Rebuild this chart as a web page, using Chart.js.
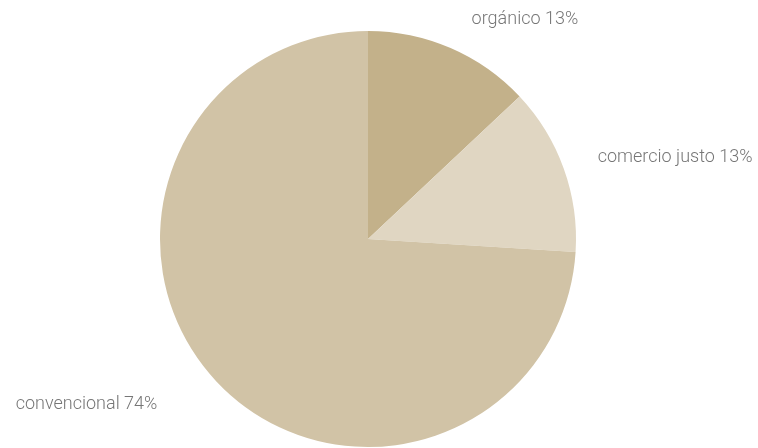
<!DOCTYPE html>
<html>
<head>
<meta charset="utf-8">
<style>
  html, body { margin: 0; padding: 0; background: #fff; }
  #wrap { width: 758px; height: 448px; }
</style>
<script src="https://cdn.jsdelivr.net/npm/chart.js@4"></script>
</head>
<body>
<div id="wrap"><canvas id="pieChart" width="758" height="448"></canvas></div>
<script>
const labels = ["orgánico", "comercio justo", "convencional"];
const values = [13, 13, 74];
const colors = ["#C3B18A", "#E0D6C2", "#D1C3A6"];

// label offset from the outer edge of each slice at its mid angle
const labelOffsets = [
    { dx: 21, dy: -29, align: "left" },
    { dx: 34, dy: -11, align: "left" },
    { dx: -59, dy: 23, align: "right" }
];

const sliceLabels = {
    id: "sliceLabels",
    afterDatasetsDraw(chart) {
        const ctx = chart.ctx;
        const meta = chart.getDatasetMeta(0);
        ctx.save();
        ctx.font = "300 18px Roboto";
        ctx.fillStyle = "#767676";
        ctx.textBaseline = "middle";
        meta.data.forEach((arc, i) => {
            const p = arc.getProps(["x", "y", "startAngle", "endAngle", "outerRadius"], true);
            const mid = (p.startAngle + p.endAngle) / 2;
            const x = p.x + Math.cos(mid) * p.outerRadius + labelOffsets[i].dx;
            const y = p.y + Math.sin(mid) * p.outerRadius + labelOffsets[i].dy;
            ctx.textAlign = labelOffsets[i].align;
            ctx.fillText(labels[i] + " " + values[i] + "%", x, y);
        });
        ctx.restore();
    }
};

new Chart(document.getElementById("pieChart"), {
    type: "pie",
    data: {
        labels: labels,
        datasets: [{
            data: values,
            backgroundColor: colors,
            borderWidth: 0
        }]
    },
    options: {
        responsive: false,
        animation: false,
        layout: { padding: { top: 31, bottom: 1, left: 0, right: 22 } },
        plugins: {
            legend: { display: false },
            tooltip: { enabled: false }
        }
    },
    plugins: [sliceLabels]
});
</script>
</body>
</html>
